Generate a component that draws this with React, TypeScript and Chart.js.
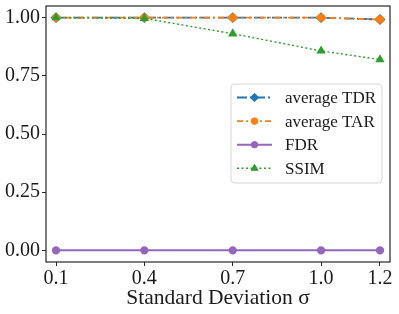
import React, { useEffect, useRef } from 'react';
import { Chart, registerables } from 'chart.js';

Chart.register(...registerables);

const sigma = [0.1, 0.4, 0.7, 1.0, 1.2];
const avgTDR = [1.0, 1.0, 1.0, 1.0, 0.992];
const avgTAR = [1.0, 1.0, 1.0, 1.0, 0.992];
const fdr = [0, 0, 0, 0, 0];
const ssim = [1.0, 0.997, 0.931, 0.857, 0.82];
const yTicks = [0, 0.25, 0.5, 0.75, 1.0];
const seriesLabels = ['average TDR', 'average TAR', 'FDR', 'SSIM'];
const xTitle = 'Standard Deviation σ';

const FONT = "'Liberation Serif', 'DejaVu Serif', serif";

function drawMarker(ctx: CanvasRenderingContext2D, style: string, x: number, y: number, r: number, color: string) {
  ctx.save();
  ctx.setLineDash([]);
  ctx.fillStyle = color;
  ctx.strokeStyle = color;
  ctx.lineWidth = 1;
  ctx.beginPath();
  if (style === 'rectRot') {
    ctx.moveTo(x, y - r);
    ctx.lineTo(x + r, y);
    ctx.lineTo(x, y + r);
    ctx.lineTo(x - r, y);
    ctx.closePath();
  } else if (style === 'triangle') {
    ctx.moveTo(x, y - r);
    ctx.lineTo(x + r * 0.866, y + r * 0.5);
    ctx.lineTo(x - r * 0.866, y + r * 0.5);
    ctx.closePath();
  } else {
    ctx.arc(x, y, r, 0, Math.PI * 2);
  }
  ctx.fill();
  ctx.stroke();
  ctx.restore();
}

const framePlugin = {
  id: 'frameAndLegend',
  afterDraw(chart: any) {
    const ctx: CanvasRenderingContext2D = chart.ctx;
    const { left, top, right, bottom } = chart.chartArea;
    ctx.save();
    ctx.strokeStyle = '#262626';
    ctx.lineWidth = 1.2;
    ctx.strokeRect(left, top, right - left, bottom - top);

    // legend box
    const bx = 231, by = 84, bw = 151, bh = 99, br = 4;
    ctx.beginPath();
    ctx.moveTo(bx + br, by);
    ctx.lineTo(bx + bw - br, by);
    ctx.quadraticCurveTo(bx + bw, by, bx + bw, by + br);
    ctx.lineTo(bx + bw, by + bh - br);
    ctx.quadraticCurveTo(bx + bw, by + bh, bx + bw - br, by + bh);
    ctx.lineTo(bx + br, by + bh);
    ctx.quadraticCurveTo(bx, by + bh, bx, by + bh - br);
    ctx.lineTo(bx, by + br);
    ctx.quadraticCurveTo(bx, by, bx + br, by);
    ctx.closePath();
    ctx.fillStyle = 'rgba(255,255,255,0.8)';
    ctx.fill();
    ctx.strokeStyle = '#d6d6d6';
    ctx.lineWidth = 1;
    ctx.stroke();

    const order = [0, 1, 2, 3];
    order.forEach((i, row) => {
      const ds = chart.data.datasets[i];
      const y = 97.5 + row * 23.6;
      ctx.save();
      ctx.strokeStyle = ds.borderColor;
      ctx.lineWidth = ds.borderWidth;
      ctx.setLineDash(ds.borderDash || []);
      ctx.beginPath();
      ctx.moveTo(237, y);
      ctx.lineTo(272, y);
      ctx.stroke();
      ctx.restore();
      drawMarker(ctx, ds.pointStyle, 254.5, y, ds.pointRadius, ds.borderColor);
      ctx.fillStyle = '#1a1a1a';
      ctx.font = `17px ${FONT}`;
      ctx.textAlign = 'left';
      ctx.textBaseline = 'middle';
      ctx.fillText(ds.label, 285, y + 1);
    });
    ctx.restore();
  },
};

export default function App() {
  const ref = useRef<HTMLCanvasElement>(null);

  useEffect(() => {
    if (!ref.current) return;
    const mk = (vals: number[]) => sigma.map((x, i) => ({ x, y: vals[i] }));
    const chart = new Chart(ref.current, {
      type: 'line',
      data: {
        datasets: [
          {
            label: seriesLabels[0],
            data: mk(avgTDR),
            borderColor: '#1f77b4',
            backgroundColor: '#1f77b4',
            borderWidth: 1.8,
            borderDash: [10, 3, 2, 3],
            pointStyle: 'rectRot',
            pointRadius: 4.2,
            order: 3,
          },
          {
            label: seriesLabels[1],
            data: mk(avgTAR),
            borderColor: '#ff7f0e',
            backgroundColor: '#ff7f0e',
            borderWidth: 1.8,
            borderDash: [6, 3, 2, 3],
            borderDashOffset: 6,
            pointStyle: 'circle',
            pointRadius: 3.3,
            order: 2,
          },
          {
            label: seriesLabels[2],
            data: mk(fdr),
            borderColor: '#9467bd',
            backgroundColor: '#9467bd',
            borderWidth: 2,
            pointStyle: 'circle',
            pointRadius: 3.2,
            order: 1,
          },
          {
            label: seriesLabels[3],
            data: mk(ssim),
            borderColor: '#2ca02c',
            backgroundColor: '#2ca02c',
            borderWidth: 1.4,
            borderDash: [2, 2.5],
            pointStyle: 'triangle',
            pointRadius: 4,
            order: 0,
          },
        ] as any,
      },
      options: {
        responsive: false,
        animation: false,
        layout: { padding: { top: 5, right: 9, left: 0, bottom: 0 } },
        plugins: {
          legend: { display: false },
          tooltip: { enabled: false },
          title: { display: false },
        },
        elements: { line: { tension: 0 }, point: { borderWidth: 1 } },
        scales: {
          x: {
            type: 'linear',
            min: 0.066,
            max: 1.234,
            afterBuildTicks: (s: any) => {
              s.ticks = sigma.map((v) => ({ value: v }));
            },
            afterFit: (s: any) => {
              s.height = 52;
              s.paddingLeft = 0;
              s.paddingRight = 0;
            },
            ticks: {
              callback: (v: any) => Number(v).toFixed(1),
              font: { family: FONT, size: 20 },
              color: '#1a1a1a',
              padding: 1,
              maxRotation: 0,
              autoSkip: false,
            },
            grid: { display: true, drawOnChartArea: false, tickLength: 4, color: '#262626', tickWidth: 1 },
            border: { display: false },
            title: {
              display: true,
              text: xTitle,
              font: { family: FONT, size: 21.5 },
              color: '#1a1a1a',
              padding: { top: 0, bottom: 3 },
            },
          },
          y: {
            type: 'linear',
            min: -0.05,
            max: 1.05,
            afterBuildTicks: (s: any) => {
              s.ticks = yTicks.map((v) => ({ value: v }));
            },
            afterFit: (s: any) => {
              s.width = 46;
              s.paddingTop = 0;
              s.paddingBottom = 0;
            },
            ticks: {
              callback: (v: any) => Number(v).toFixed(2),
              font: { family: FONT, size: 20 },
              color: '#1a1a1a',
              padding: 2,
            },
            grid: { display: true, drawOnChartArea: false, tickLength: 4, color: '#262626', tickWidth: 1 },
            border: { display: false },
          },
        },
      } as any,
      plugins: [framePlugin],
    });
    return () => chart.destroy();
  }, []);

  return (
    <div style={{ position: 'absolute', left: 0, top: 0, width: 399, height: 314, background: '#fff' }}>
      <canvas ref={ref} width={399} height={314} />
    </div>
  );
}
